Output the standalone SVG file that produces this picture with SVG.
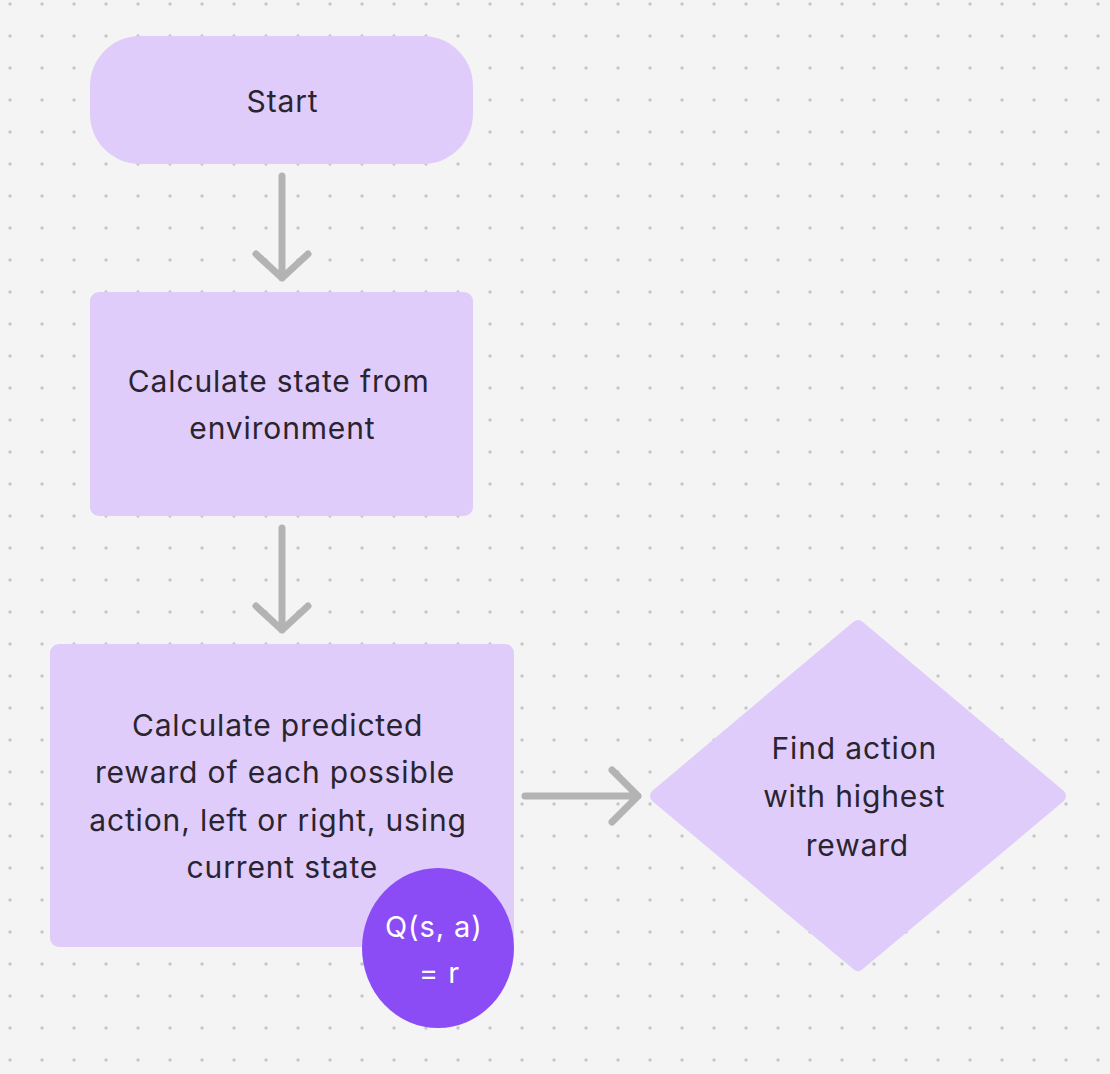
<svg xmlns="http://www.w3.org/2000/svg" width="1110" height="1074" viewBox="0 0 1110 1074">
  <defs>
    <pattern id="dots" x="0" y="0" width="32" height="32" patternUnits="userSpaceOnUse">
      <circle cx="10" cy="4" r="1.7" fill="#c6c6c6"/>
    </pattern>
    <style>
      .node { fill: #e0ccfa; }
      .lbl { font-family: Inter, "Noto Sans", "Liberation Sans", sans-serif; font-size: 30px; letter-spacing: 0.85px; fill: #2a2430; text-anchor: middle; }
      .qlbl { font-family: Inter, "Noto Sans", "Liberation Sans", sans-serif; font-size: 29px; letter-spacing: 0.9px; fill: #ffffff; text-anchor: middle; }
      .conn { fill: none; stroke: #b3b3b3; stroke-width: 7; stroke-linecap: round; stroke-linejoin: round; }
    </style>
  </defs>
  <rect width="1110" height="1074" fill="#f4f4f4"/>
  <rect width="1110" height="1074" fill="url(#dots)"/>

  <g id="connectors">
    <path class="conn" d="M282 176 V278 M256 254 L282 278 L308 254"/>
    <path class="conn" d="M282 528 V630 M256 606 L282 630 L308 606"/>
    <path class="conn" d="M525 796 H638 M612 770 L638 796 L612 822"/>
  </g>

  <g id="start">
    <rect class="node" x="90" y="36" width="383" height="128" rx="50" ry="50"/>
    <text class="lbl" x="282.5" y="111.5">Start</text>
  </g>

  <g id="calc-state">
    <rect class="node" x="90" y="292" width="383" height="224" rx="9" ry="9"/>
    <text class="lbl" x="278.7" y="391.7">Calculate state from</text>
    <text class="lbl" x="282.4" y="438.5">environment</text>
  </g>

  <g id="calc-reward">
    <rect class="node" x="50" y="644" width="464" height="303" rx="9" ry="9"/>
    <text class="lbl" x="277.6" y="735.5">Calculate predicted</text>
    <text class="lbl" x="275" y="783">reward of each possible</text>
    <text class="lbl" x="278" y="831">action, left or right, using</text>
    <text class="lbl" x="282.4" y="878">current state</text>
  </g>

  <g id="find-action">
    <polygon class="node" points="858,627 1059,796 858,964 657,796" stroke="#e0ccfa" stroke-width="14" stroke-linejoin="round"/>
    <text class="lbl" x="854.3" y="759.3">Find action</text>
    <text class="lbl" x="854.3" y="807">with highest</text>
    <text class="lbl" x="857.4" y="855.5">reward</text>
  </g>

  <g id="q-value">
    <ellipse cx="438" cy="948" rx="76" ry="80" fill="#8b4cf6"/>
    <text class="qlbl" x="433.8" y="936.5">Q(s, a)</text>
    <text class="qlbl" x="439.5" y="983">= r</text>
  </g>
</svg>
